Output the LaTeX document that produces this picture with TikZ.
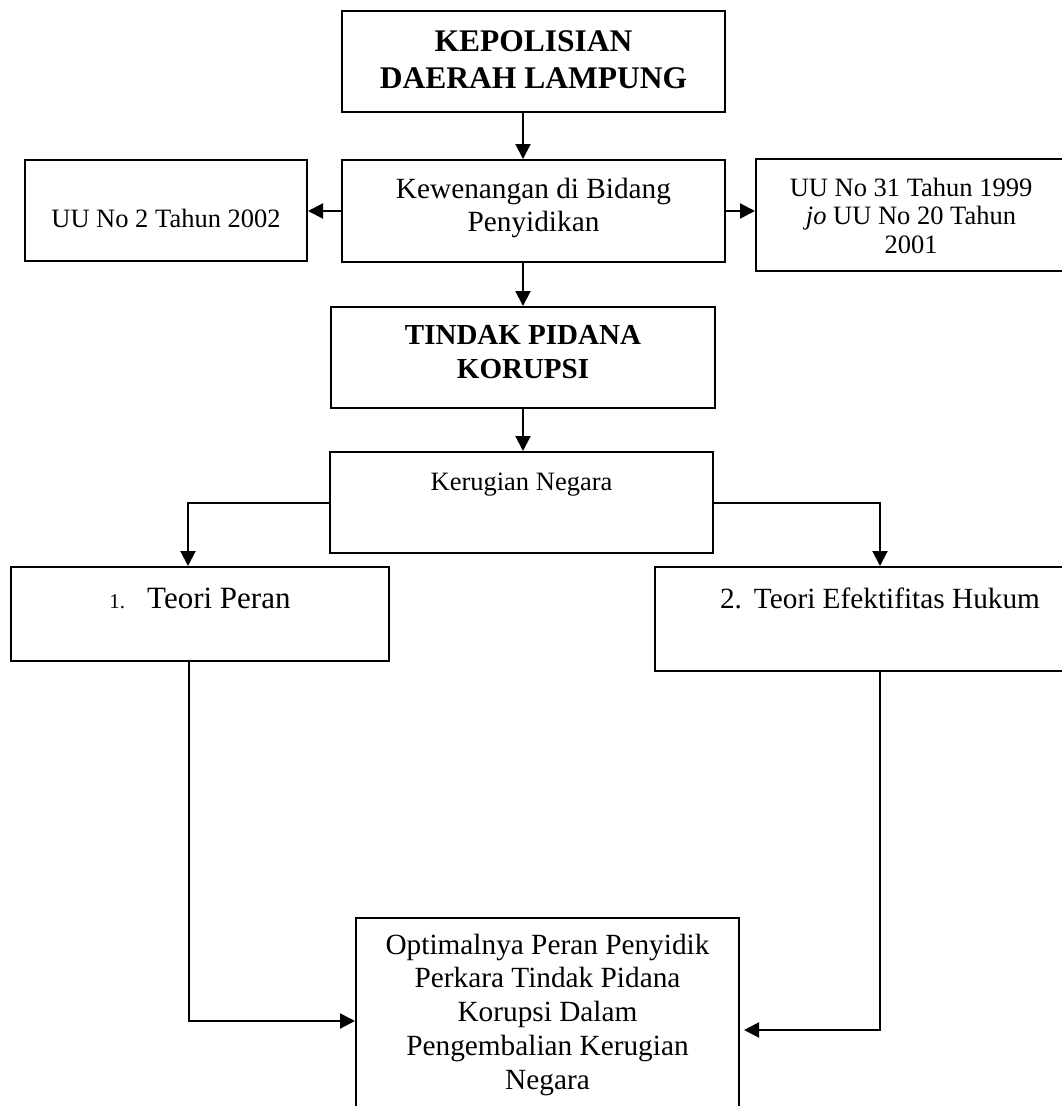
\documentclass[tikz,border=0pt]{standalone}
\usepackage{fontspec}
\setmainfont{Liberation Serif}
\usetikzlibrary{arrows.meta,calc}
\begin{document}
\begin{tikzpicture}[x=1pt,y=-1pt,
  box/.style={draw, line width=2pt, rectangle, inner xsep=0pt, inner ysep=0pt, align=flush center, anchor=north},
  arr/.style={line width=2pt, -{Triangle[length=15pt,width=15pt]}},
  fb/.style={font=\bfseries\fontsize{31.5}{37}\selectfont},
  fbt/.style={font=\bfseries\fontsize{29}{34}\selectfont},
  fm/.style={font=\fontsize{29.3}{33.8}\selectfont},
  fs/.style={font=\fontsize{26.5}{28.5}\selectfont}
]
\useasboundingbox (0,0) rectangle (1062,1106);
\clip (0,0) rectangle (1062,1106);

\node[box, fb, text width=383pt, text height=40pt, text depth=61pt] (kep) at (533.5,10) {KEPOLISIAN\\DAERAH LAMPUNG};
\node[box, fm, text width=383pt, text height=38pt, text depth=64pt] (kew) at (533.5,159) {Kewenangan di Bidang\\Penyidikan};
\node[box, fs, text width=282pt, text height=67pt, text depth=34pt] (uu2) at (166,159) {UU No 2 Tahun 2002};
\node[box, fs, text width=310pt, text height=37pt, text depth=75pt] (uu31) at (911,158) {UU No 31 Tahun 1999\\\textit{jo} UU No 20 Tahun\\2001};
\node[box, fbt, text width=384pt, text height=37pt, text depth=64pt] (tpk) at (523,306) {TINDAK PIDANA\\KORUPSI};
\node[box, fs, text width=383pt, text height=38pt, text depth=63pt] (ker) at (521.5,451) {Kerugian Negara};
\node[box, font=\fontsize{31}{35}\selectfont, text width=378pt, text height=41pt, text depth=53pt] (tp) at (200,566) {{\fontsize{21}{24}\selectfont 1.}\hspace{22pt}Teori Peran};
\node[box, fm, text width=450pt, text height=41pt, text depth=63pt] (te) at (880,566) {2.\hspace{12pt}Teori Efektifitas Hukum};
\node[box, fm, text width=383pt, text height=36pt, text depth=180pt] (opt) at (547.5,917) {Optimalnya Peran Penyidik\\Perkara Tindak Pidana\\Korupsi Dalam\\Pengembalian Kerugian\\Negara};

\draw[arr] (kep.south -| tpk.north) -- (kew.north -| tpk.north);
\draw[arr] (kew.south -| tpk.north) -- (tpk.north);
\draw[arr] (tpk.south) -- (tpk.south |- ker.north);
\draw[arr] (kew.west) -- (kew.west -| uu2.east);
\draw[arr] (kew.east) -- (kew.east -| uu31.west);
\draw[arr] (ker.west) -| ($(tp.north)+(-12,0)$);
\draw[arr] (ker.east) -| (te.north);
\draw[arr] ($(tp.south)+(-11,0)$) |- ($(opt.north west)+(0,104)$);
\draw[arr] (te.south) |- ($(opt.north east)+(4,113)$);
\end{tikzpicture}
\end{document}
